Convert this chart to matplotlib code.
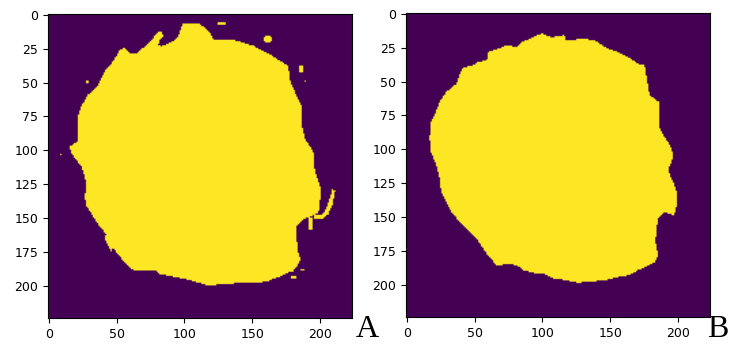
import numpy as np
import matplotlib
matplotlib.use("Agg")
from matplotlib import pyplot as plt
from matplotlib.path import Path

# outlines, (column, row) in image pixels
blob_a = [(98.6, 6.6), (111.4, 6.6), (118.9, 13.5), (121, 18), (136, 18.4), (151, 23),
          (165.5, 30.7), (176.6, 38), (178, 49), (181.8, 57.7), (184, 62.7), (186.5, 67.6),
          (186.5, 82), (189, 92), (192.7, 97), (195.4, 102), (195.4, 111.8), (197.5, 119),
          (200, 126.5), (200, 136), (198.8, 146), (187.7, 151), (182.8, 156), (182.8, 166),
          (184, 176), (185.8, 180.6), (182.8, 185.6), (180, 189), (175.4, 190.4),
          (170.5, 193), (160.6, 196.6), (150.8, 197.8), (136, 198), (123.7, 199),
          (119, 199.8), (111.4, 197.8), (101.6, 195), (86.8, 192), (81.9, 191.6),
          (79.5, 188.4), (62.2, 188), (57.3, 184.3), (52.4, 178), (47.5, 172), (46, 174),
          (44, 170), (41, 164.6), (42.6, 162), (37.6, 156), (32.7, 148.6), (27.8, 141),
          (26.6, 134), (27.8, 126.5), (26.6, 119), (24, 111.8), (20.4, 107), (16.7, 102),
          (15.5, 97), (21.6, 93.4), (21.6, 82.3), (21.6, 75), (24, 67.6), (29, 59),
          (35, 54), (37.6, 49), (41.3, 41.8), (47.5, 34.4), (52.4, 25.8), (56, 24.5),
          (59.8, 28.3), (64.7, 28.3), (69.6, 24.5), (73.3, 20.9), (77, 17.2), (79.5, 13.5),
          (83, 12.3), (84.4, 15.9), (82, 18.4), (80.7, 22), (83, 23.3), (86.8, 22),
          (91.7, 19.6), (95.4, 15.9), (97.8, 9.8)]
streak_a = [(209, 128.5), (211, 130), (209, 140), (206, 147), (202, 150.5), (196, 150.5),
            (196, 148), (202, 147), (205, 142), (207.5, 134)]
notch_a = [(192, 149), (195, 149), (194, 158), (192, 158)]
# small specks: column, row, half width, half height
specks_a = [(127.5, 6.5, 3, 1), (161.5, 18, 3, 2.5), (186, 40, 1.8, 2.5), (189, 49, 0.8, 0.8),
            (28.5, 49.5, 1.5, 1.2), (9, 103, 0.7, 0.7), (180.5, 193.5, 2.5, 1.5),
            (187, 188, 1.5, 0.8)]

blob_b = [(99.5, 14.7), (105.7, 17.2), (114.3, 16.5), (115.6, 14.7), (116.8, 19.6),
          (125.4, 18.9), (130.4, 18.4), (140, 20.4), (145, 24.6), (155, 28.3), (162.5, 32),
          (170, 36.9), (174.8, 38), (176, 45.5), (177.3, 52.8), (178.5, 60.2), (182.2, 62.7),
          (185, 65), (185.9, 75), (185.9, 84.8), (188.4, 89.7), (192, 94.6), (194.6, 99.5),
          (195.8, 104.4), (194.6, 109.3), (192, 114.2), (193.3, 119), (195.8, 124),
          (198.3, 131.4), (199, 138.8), (197, 146), (195.8, 148.6), (189.6, 146),
          (184.7, 151), (183.5, 158.5), (182.7, 168), (184.7, 178), (182.2, 183),
          (177.3, 185.5), (169.9, 189), (162.5, 192.9), (155, 194), (145, 196.6),
          (135.3, 197.3), (125.4, 198.3), (118, 196.6), (108, 195), (100.7, 191.6),
          (93.3, 191), (86, 189), (81, 185.5), (76, 184.3), (66, 185.5), (65, 184.3),
          (58.8, 177), (51.4, 165.8), (46.4, 161), (39, 153.6), (32.8, 146), (29, 138.8),
          (25.4, 131.4), (24.2, 121.6), (21.7, 111.8), (18, 102), (16.8, 92), (18, 79.9),
          (20.5, 75), (24.2, 65), (29, 57.7), (36.5, 51.6), (40.2, 41.8), (42.7, 39.3),
          (48.9, 38), (52.6, 35.6), (58.8, 34.4), (60, 28.3), (68.6, 25.3), (73.6, 23.3),
          (81, 24.6), (84.7, 20.9), (90.9, 18.4), (95.8, 15.9)]

size = 224
cols, rows = np.meshgrid(np.arange(size), np.arange(size))
pts = np.column_stack([cols.ravel(), rows.ravel()])


def fill(mask, poly):
    inside = Path(poly).contains_points(pts).reshape(size, size)
    mask[inside] = 1


def make_mask(polys, specks=()):
    mask = np.zeros((size, size))
    for p in polys:
        fill(mask, p)
    for cx, cy, rx, ry in specks:
        mask[((cols - cx) / rx) ** 2 + ((rows - cy) / ry) ** 2 <= 1] = 1
    return mask


mask_a = make_mask([blob_a, streak_a, notch_a], specks_a)
mask_b = make_mask([blob_b])

fig = plt.figure(figsize=(7.32, 3.44), dpi=100)
ax1 = fig.add_axes([48 / 732, 26 / 344, 304 / 732, 304 / 344])
ax2 = fig.add_axes([406 / 732, 27 / 344, 304 / 732, 304 / 344])
for ax, m in [(ax1, mask_a), (ax2, mask_b)]:
    ax.imshow(m, cmap="viridis", vmin=0, vmax=1, interpolation="bilinear")
    ax.set_xticks([0, 50, 100, 150, 200])
    ax.set_yticks([0, 25, 50, 75, 100, 125, 150, 175, 200])
    ax.tick_params(labelsize=9)

fig.text(356 / 732, 7 / 344, "A", family="Liberation Serif", fontsize=23)
fig.text(707 / 732, 7 / 344, "B", family="Liberation Serif", fontsize=23)

fig.savefig("out.png", dpi=100)
